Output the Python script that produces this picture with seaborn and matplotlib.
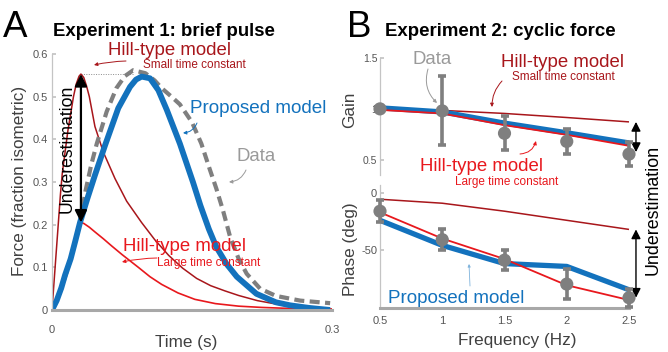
import matplotlib
matplotlib.use("Agg")
import matplotlib.pyplot as plt
from matplotlib.patches import FancyArrowPatch
import seaborn as sns

sns.set_theme(style="white")
plt.rcParams['font.family'] = ['Liberation Sans', 'DejaVu Sans']

# ---- Experiment 1: brief pulse (force, fraction of isometric) ----
t_small = [0, 0.003, 0.006, 0.009, 0.011, 0.014, 0.017, 0.020, 0.023, 0.026, 0.029, 0.031,
           0.034, 0.037, 0.040, 0.046, 0.055, 0.0675, 0.080, 0.096, 0.110, 0.125,
           0.140, 0.155, 0.170, 0.185, 0.200, 0.220, 0.240, 0.260, 0.280, 0.300]
f_small = [0, 0.09, 0.18, 0.27, 0.32, 0.37, 0.42, 0.46, 0.50, 0.53, 0.548, 0.553,
           0.545, 0.525, 0.50, 0.43, 0.37, 0.308, 0.255, 0.205, 0.165, 0.128,
           0.098, 0.074, 0.057, 0.045, 0.034, 0.022, 0.014, 0.008, 0.004, 0.002]

t_large = [0, 0.005, 0.010, 0.015, 0.020, 0.025, 0.030, 0.034, 0.040, 0.046, 0.055, 0.064,
           0.075, 0.0925, 0.105, 0.1175, 0.135, 0.153, 0.175, 0.200, 0.225, 0.250, 0.275, 0.300]
f_large = [0, 0.028, 0.06, 0.095, 0.13, 0.168, 0.205, 0.203, 0.194, 0.183, 0.167, 0.15,
           0.13, 0.10, 0.078, 0.06, 0.04, 0.025, 0.015, 0.009, 0.006, 0.004, 0.003, 0.002]

t_model = [0, 0.005, 0.010, 0.014, 0.020, 0.025, 0.030, 0.038, 0.046, 0.057, 0.071, 0.0836,
           0.090, 0.096, 0.105, 0.114, 0.123, 0.137, 0.151, 0.159, 0.168, 0.176, 0.187,
           0.198, 0.219, 0.240, 0.255, 0.275, 0.298]
f_model = [0, 0.022, 0.052, 0.082, 0.12, 0.162, 0.205, 0.262, 0.316, 0.387, 0.473, 0.523,
           0.540, 0.547, 0.543, 0.515, 0.469, 0.39, 0.30, 0.245, 0.19, 0.148, 0.108,
           0.078, 0.038, 0.018, 0.011, 0.005, 0.0]

t_data = [0, 0.010, 0.020, 0.026, 0.031, 0.036, 0.042, 0.048, 0.0586, 0.069, 0.078, 0.087,
          0.100, 0.110, 0.1175, 0.128, 0.137, 0.150, 0.160, 0.169, 0.176, 0.183, 0.191,
          0.200, 0.2086, 0.223, 0.240, 0.266, 0.298]
f_data = [0, 0.05, 0.12, 0.17, 0.215, 0.28, 0.34, 0.39, 0.465, 0.52, 0.548, 0.562,
          0.555, 0.538, 0.52, 0.50, 0.482, 0.44, 0.39, 0.33, 0.285, 0.235, 0.17,
          0.12, 0.085, 0.05, 0.033, 0.022, 0.016]

time_ticks = [0, 0.3]
time_labels = ['0', '0.3']
force_ticks = [0, 0.1, 0.2, 0.3, 0.4, 0.5, 0.6]
force_labels = ['0', '0.1', '0.2', '0.3', '0.4', '0.5', '0.6']

# ---- Experiment 2: cyclic force ----
freq = [0.5, 1.0, 1.5, 2.0, 2.5]
gain_data = [1.0, 0.98, 0.76, 0.68, 0.555]
gain_sd = [0.0, 0.34, 0.165, 0.125, 0.12]
gain_model = [1.01, 0.97, 0.86, 0.765, 0.665]
gain_large = [0.99, 0.955, 0.84, 0.745, 0.637]
gain_small = [1.0, 0.985, 0.955, 0.915, 0.872]

phase_data = [-16, -41, -59, -80, -92]
phase_sd = [9.5, 9.5, 9, 13, 8]
phase_model = [-24, -46, -62, -64.5, -85]
phase_large = [-17, -40, -58, -81, -94]
phase_small = [-5.5, -9, -16, -24, -32]

freq_labels = ['0.5', '1', '1.5', '2', '2.5']
gain_ticks, gain_labels = [0.5, 1.0, 1.5], ['0.5', '1', '1.5']
phase_ticks, phase_labels = [-50, 0], ['-50', '0']

BLUE = '#1372bd'
RED = '#e8181d'
DARK = '#a8161b'
GRAY = '#7f7f7f'
TXTGRAY = '#9a9a9a'
TICK = '#555555'
SPINE_L = '#c4c4c4'
SPINE_B = '#a8a8a8'

W, H = 668, 352
fig = plt.figure(figsize=(W / 100, H / 100), dpi=100)


def box(l, t, r, b):
    return [l / W, 1 - b / H, (r - l) / W, (b - t) / H]


def fp(x, y):
    return (x / W, 1 - y / H)


def label(x, y, s, color, size, **kw):
    fig.text(x / W, 1 - y / H, s, color=color, fontsize=size, **kw)


def pointer(x0, y0, x1, y1, color, rad=0.0, lw=0.8, head=6):
    fig.add_artist(FancyArrowPatch(fp(x0, y0), fp(x1, y1), transform=fig.transFigure,
                                   arrowstyle='-|>', mutation_scale=head, color=color, lw=lw,
                                   connectionstyle=f'arc3,rad={rad}', shrinkA=0, shrinkB=0))


def style_axis(ax, bottom=True):
    for side in ['top', 'right']:
        ax.spines[side].set_visible(False)
    ax.spines['left'].set_color(SPINE_L)
    ax.spines['left'].set_linewidth(0.9)
    if bottom:
        ax.spines['bottom'].set_color(SPINE_B)
        ax.spines['bottom'].set_linewidth(2.2)
    else:
        ax.spines['bottom'].set_visible(False)
    ax.tick_params(axis='y', direction='in', length=3, color=SPINE_L, labelsize=8,
                   labelcolor=TICK, left=True)
    ax.set_facecolor('none')


axA = fig.add_axes(box(52, 54, 332, 310))
axG = fig.add_axes(box(380, 58, 629, 175))
axP = fig.add_axes(box(380, 185, 629, 308))

# ---- panel A curves ----
kw = dict(ax=axA, sort=False, estimator=None, solid_capstyle='butt')
sns.lineplot(x=t_small, y=f_small, color=DARK, linewidth=1.1, **kw)
sns.lineplot(x=t_large, y=f_large, color=RED, linewidth=1.2, **kw)
sns.lineplot(x=t_data, y=f_data, color=GRAY, linewidth=3.0, linestyle='--', ax=axA,
             sort=False, estimator=None)
axA.lines[-1].set_dashes((2.4, 1.3))
sns.lineplot(x=t_model, y=f_model, color=BLUE, linewidth=4.2, **kw)

i_s = f_small.index(max(f_small))
i_l = f_large.index(max(f_large))
i_d = f_data.index(max(f_data))
axA.plot([t_small[i_s], t_data[i_d]], [f_small[i_s], f_small[i_s]], ls=(0, (1, 1.5)),
         color='#8c8c8c', lw=0.7, zorder=1)
axA.annotate('', xy=(t_small[i_s], f_small[i_s]), xytext=(t_small[i_s], f_large[i_l]),
             arrowprops=dict(arrowstyle='<|-|>,head_length=0.6,head_width=0.3',
                             color='black', lw=1.6, mutation_scale=12,
                             shrinkA=0, shrinkB=0), zorder=6)

axA.set_xlim(0, 0.3)
axA.set_ylim(0, 0.6)
axA.set_xticks(time_ticks, time_labels)
axA.set_yticks(force_ticks, force_labels)
style_axis(axA)
axA.tick_params(axis='x', length=0, pad=11, labelsize=8, labelcolor=TICK)
axA.tick_params(axis='y', pad=3)
axA.set_xlabel('')
axA.set_ylabel('')

# ---- panel B: gain and phase ----
for ax, small, large, model, data, sd in [(axG, gain_small, gain_large, gain_model, gain_data, gain_sd),
                                          (axP, phase_small, phase_large, phase_model, phase_data, phase_sd)]:
    lk = dict(ax=ax, sort=False, estimator=None, clip_on=False, solid_capstyle='butt')
    sns.lineplot(x=freq, y=small, color=DARK, linewidth=1.1, **lk)
    sns.lineplot(x=freq, y=model, color=BLUE, linewidth=3.8, **lk)
    sns.lineplot(x=freq, y=large, color=RED, linewidth=1.3, **lk)
    eb = ax.errorbar(freq, data, yerr=sd, fmt='none', ecolor=GRAY, elinewidth=2.6,
                     capsize=3.2, capthick=2.6, zorder=5)
    for art in eb.get_children():
        art.set_clip_on(False)
    sns.scatterplot(x=freq, y=data, ax=ax, color=GRAY, s=90, edgecolor='none',
                    zorder=6, clip_on=False)
    ax.set_xlim(0.5, 2.5)
    ax.set_xlabel('')
    ax.set_ylabel('')

axG.set_ylim(0.35, 1.5)
axG.set_yticks(gain_ticks, gain_labels)
axG.set_xticks([])
style_axis(axG, bottom=False)
axG.tick_params(axis='y', pad=2, labelsize=7.5)

axP.set_ylim(-101, 7)
axP.set_yticks(phase_ticks, phase_labels)
axP.set_xticks(freq, freq_labels)
style_axis(axP)
axP.tick_params(axis='x', length=0, pad=6, labelsize=8, labelcolor=TICK)
axP.tick_params(axis='y', pad=2, labelsize=8)

xa = 2.5 + 0.056
arrow_b = dict(arrowstyle='<|-|>,head_length=0.55,head_width=0.28', color='black', lw=1.0,
               mutation_scale=10, shrinkA=0, shrinkB=0)
axG.annotate('', xy=(xa, gain_small[-1]), xytext=(xa, gain_data[-1] + 0.02),
             arrowprops=arrow_b, annotation_clip=False)
axP.annotate('', xy=(xa, phase_small[-1]), xytext=(xa, phase_data[-1]),
             arrowprops=arrow_b, annotation_clip=False)

# ---- titles ----
label(3, 37, 'A', 'black', 26.5)
label(53, 36.5, 'Experiment 1: brief pulse', 'black', 13.4, fontweight='bold')
label(347, 37, 'B', 'black', 26.5)
label(385, 36.5, 'Experiment 2: cyclic force', 'black', 13.4, fontweight='bold')

# ---- axis labels ----
label(20, 181, 'Force (fraction isometric)', '#404040', 12.3, rotation=90, ha='center', va='center')
label(186, 343, 'Time (s)', '#404040', 12.3, ha='center', va='center')
label(350, 110, 'Gain', '#404040', 12.3, rotation=90, ha='center', va='center')
label(350, 249, 'Phase (deg)', '#404040', 12.3, rotation=90, ha='center', va='center')
label(517, 341, 'Frequency (Hz)', '#404040', 12.3, ha='center', va='center')

# ---- annotations, panel A ----
label(67, 149, 'Underestimation', 'black', 12.7, rotation=90, ha='center', va='center')
label(108, 55, 'Hill-type model', DARK, 13.4)
label(143, 68.5, 'Small time constant', DARK, 8.5)
pointer(126, 61, 94, 65, DARK, rad=0.05, lw=0.7, head=5)
label(190, 113, 'Proposed model', BLUE, 13.6)
pointer(197, 123, 183, 133, BLUE, rad=-0.3, lw=0.7, head=5)
label(237, 161, 'Data', TXTGRAY, 13.4)
pointer(246, 170, 229, 182, TXTGRAY, rad=-0.3, lw=0.7, head=5)
label(123, 251, 'Hill-type model', RED, 13.4)
label(157, 266, 'Large time constant', RED, 8.5)
pointer(157, 258, 122, 262, RED, rad=0.05, lw=0.7, head=5)

# ---- annotations, panel B ----
label(653, 210, 'Underestimation', 'black', 12.9, rotation=90, ha='center', va='center')
label(413, 64, 'Data', TXTGRAY, 13.4)
pointer(428, 69, 437, 103, TXTGRAY, rad=0.3, lw=0.7, head=5)
label(501, 67, 'Hill-type model', DARK, 13.4)
label(512, 80, 'Small time constant', DARK, 8.5)
pointer(502, 81, 492, 107, DARK, rad=0.2, lw=0.7, head=5)
label(420, 171, 'Hill-type model', RED, 13.4)
label(455, 185, 'Large time constant', RED, 8.5)
pointer(520, 154, 536, 141, RED, rad=0.35, lw=0.7, head=5)
label(388, 303, 'Proposed model', BLUE, 13.6)
pointer(470, 286, 469, 264, '#7fb3dc', rad=0.0, lw=0.6, head=4)

fig.savefig('out.png', dpi=100, facecolor='white')
